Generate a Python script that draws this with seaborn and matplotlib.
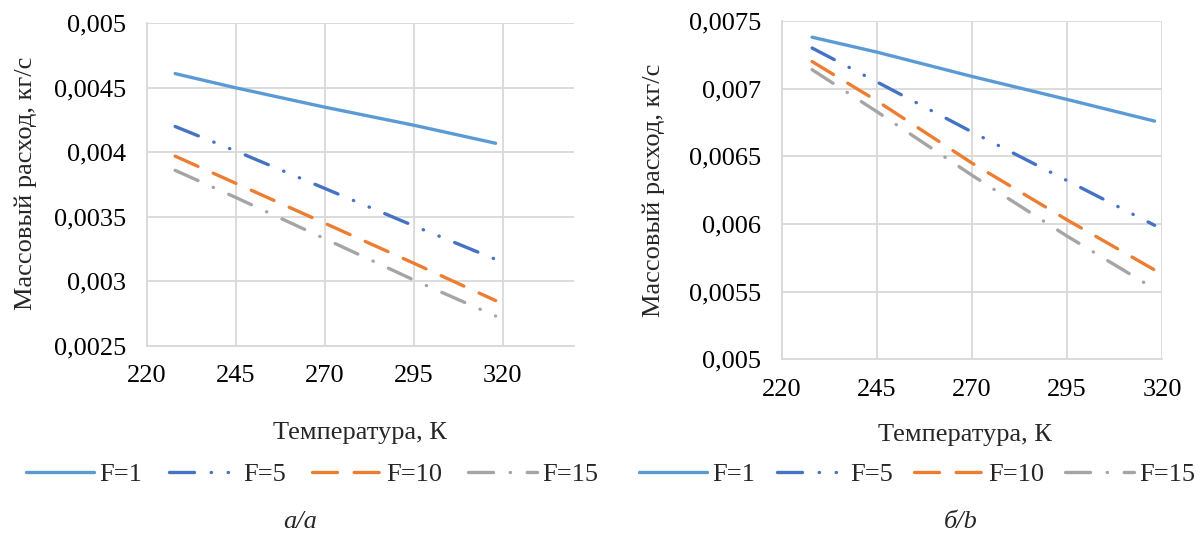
import matplotlib
matplotlib.use("Agg")
import matplotlib.pyplot as plt
import seaborn as sns
import pandas as pd

# ---- data ----
temps = [228, 245, 270, 295, 318]
series_names = ["F=1", "F=5", "F=10", "F=15"]

left_f1 = [0.00461, 0.00450, 0.00435, 0.00421, 0.00407]
left_f5 = [0.00420, 0.00401, 0.00372, 0.00343, 0.00317]
left_f10 = [0.00397, 0.00376, 0.00345, 0.00314, 0.00285]
left_f15 = [0.00386, 0.00365, 0.00333, 0.00301, 0.00273]

right_f1 = [0.00738, 0.00727, 0.00709, 0.00692, 0.00676]
right_f5 = [0.00730, 0.00705, 0.00668, 0.00632, 0.00599]
right_f10 = [0.00720, 0.00691, 0.00645, 0.00603, 0.00566]
right_f15 = [0.00714, 0.00683, 0.00636, 0.00591, 0.00552]

x_ticks = [220, 245, 270, 295, 320]
left_y_ticks = [0.0025, 0.003, 0.0035, 0.004, 0.0045, 0.005]
right_y_ticks = [0.005, 0.0055, 0.006, 0.0065, 0.007, 0.0075]

x_label = "Температура, К"
y_label = "Массовый расход, кг/с"
captions = ["а/a", "б/b"]


def long_df(vals):
    rows = []
    for name, ys in zip(series_names, vals):
        for t, y in zip(temps, ys):
            rows.append({"T": t, "G": y, "F": name})
    return pd.DataFrame(rows)


df_left = long_df([left_f1, left_f5, left_f10, left_f15])
df_right = long_df([right_f1, right_f5, right_f10, right_f15])

sns.set_theme(style="white")
plt.rcParams["font.family"] = ["Liberation Serif", "DejaVu Serif"]
FS = 19
LW = 2.4

palette = {"F=1": "#5B9BD5", "F=5": "#4472C4", "F=10": "#ED7D31", "F=15": "#A5A5A5"}
dashes = {"F=1": "", "F=5": (7.5, 5, 0.1, 5, 0.1, 5), "F=10": (7.5, 5),
          "F=15": (7.5, 5, 0.1, 5)}

fig = plt.figure(figsize=(12.02, 5.36), dpi=100)
ax1 = fig.add_axes([0.1220, 0.3550, 0.3555, 0.6015])
ax2 = fig.add_axes([0.6503, 0.3297, 0.3166, 0.6312])

grid_c = "#D9D9D9"


def fmt(v):
    s = f"{v:g}"
    return s.replace(".", ",")


def style_ax(ax, df, yticks, xlim, ylim):
    sns.lineplot(data=df, x="T", y="G", hue="F", style="F", palette=palette,
                 dashes=dashes, hue_order=series_names, style_order=series_names,
                 linewidth=LW, ax=ax, legend=True)
    for ln in ax.lines:
        ln.set_solid_capstyle("round")
        ln.set_dash_capstyle("round")
    ax.set_xlim(*xlim)
    ax.set_ylim(*ylim)
    ax.set_xticks(x_ticks)
    ax.set_xticklabels([str(t) for t in x_ticks])
    ax.set_yticks(yticks)
    ax.set_yticklabels([fmt(v) for v in yticks])
    ax.grid(True, color=grid_c, linewidth=1.3)
    ax.set_axisbelow(True)
    for s in ["top", "right"]:
        ax.spines[s].set_visible(False)
    for s in ["left", "bottom"]:
        ax.spines[s].set_color(grid_c)
        ax.spines[s].set_linewidth(1.3)
    ax.tick_params(axis="both", length=0, labelsize=FS, colors="black")
    ax.tick_params(axis="y", pad=15)
    ax.tick_params(axis="x", pad=14)
    ax.set_xlabel(x_label, fontsize=FS)
    ax.set_ylabel(y_label, fontsize=FS)


style_ax(ax1, df_left, left_y_ticks, (220, 340), (0.0025, 0.005))
style_ax(ax2, df_right, right_y_ticks, (220, 320), (0.005, 0.0075))

ax1.yaxis.set_label_coords(-0.2567, 0.5047)
ax1.xaxis.set_label_coords(0.499, -0.2366)
ax2.yaxis.set_label_coords(-0.3066, 0.50)
ax2.xaxis.set_label_coords(0.4816, -0.1913)

for ax, cx, cs in [(ax1, 312 / 1202, 1.0), (ax2, 917 / 1202, 0.8)]:
    sns.move_legend(ax, "center", bbox_to_anchor=(cx, 1 - 474 / 536),
                    bbox_transform=fig.transFigure, ncol=4, title=None,
                    frameon=False, fontsize=FS, handlelength=2.6,
                    handletextpad=0.2, columnspacing=cs, borderaxespad=0)
    leg = ax.get_legend()
    for h in leg.legend_handles:
        h.set_linewidth(LW)
        h.set_dash_capstyle("round")
        h.set_solid_capstyle("round")

fig.text(300 / 1202, 1 - 522 / 536, captions[0], ha="center", va="center",
         fontsize=FS, style="italic")
fig.text(961 / 1202, 1 - 522 / 536, captions[1], ha="center", va="center",
         fontsize=FS, style="italic")

fig.savefig("out.png", dpi=100)
